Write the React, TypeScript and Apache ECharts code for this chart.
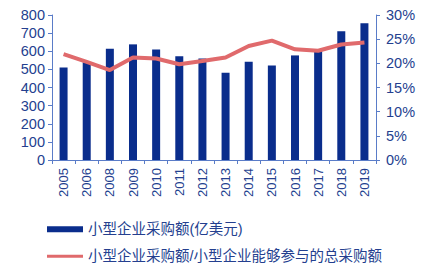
import React, { useEffect, useRef } from "react";
import * as echarts from "echarts";

const years = ["2005", "2006", "2008", "2009", "2010", "2011", "2012", "2013", "2014", "2015", "2016", "2017", "2018", "2019"];
const purchase = [510, 540, 614, 638, 610, 572, 560, 482, 542, 522, 577, 606, 711, 754];
const share = [21.9, 20.3, 18.6, 21.2, 21.0, 19.8, 20.5, 21.2, 23.6, 24.7, 22.9, 22.6, 23.9, 24.3];
const leftTicks = { min: 0, max: 800, interval: 100 };
const rightTicks = { min: 0, max: 30, interval: 5 };
const barName = "小型企业采购额(亿美元)";
const lineName = "小型企业采购额/小型企业能够参与的总采购额";

const FONT = "'Liberation Sans', Arial, 'Noto Sans CJK SC', sans-serif";
const TEXT = "#243f8f";
const AXIS = "#5a7cc8";

export default function App() {
  const ref = useRef<HTMLDivElement>(null);
  useEffect(() => {
    const chart = echarts.init(ref.current!, null, { renderer: "svg" });
    chart.setOption({
      animation: false,
      textStyle: { fontFamily: FONT },
      grid: { left: 52, right: 48, top: 15, bottom: 109 },
      legend: [
        {
          data: [{ name: barName, icon: "rect" }],
          orient: "vertical",
          left: 47,
          top: 222,
          padding: 0,
          itemWidth: 36,
          itemHeight: 6,
          itemGap: 4,
          textStyle: { color: TEXT, fontSize: 14.5, fontFamily: FONT },
        },
        {
          data: [{ name: lineName, icon: "rect" }],
          orient: "vertical",
          left: 47,
          top: 249,
          padding: 0,
          itemWidth: 36,
          itemHeight: 3,
          textStyle: { color: TEXT, fontSize: 14.5, fontFamily: FONT },
        },
      ],
      xAxis: {
        type: "category",
        data: years,
        axisLine: { lineStyle: { color: AXIS, width: 1 } },
        axisTick: { show: true, lineStyle: { color: AXIS }, length: 4 },
        axisLabel: { rotate: 90, color: TEXT, fontSize: 13, margin: 8 },
      },
      yAxis: [
        {
          type: "value",
          ...leftTicks,
          axisLine: { show: true, lineStyle: { color: AXIS } },
          axisTick: { show: true, lineStyle: { color: AXIS }, length: 4 },
          splitLine: { show: false },
          axisLabel: { color: TEXT, fontSize: 14.5, margin: 7 },
        },
        {
          type: "value",
          ...rightTicks,
          axisLine: { show: true, lineStyle: { color: AXIS } },
          axisTick: { show: true, lineStyle: { color: AXIS }, length: 4 },
          splitLine: { show: false },
          axisLabel: { color: TEXT, fontSize: 14.5, margin: 10, formatter: "{value}%" },
        },
      ],
      series: [
        {
          name: barName,
          type: "bar",
          data: purchase,
          barWidth: 8,
          itemStyle: { color: "#0a2d8c" },
        },
        {
          name: lineName,
          type: "line",
          yAxisIndex: 1,
          data: share,
          symbol: "none",
          lineStyle: { color: "#e06a6c", width: 4 },
          itemStyle: { color: "#e06a6c" },
        },
      ],
    });
    return () => chart.dispose();
  }, []);
  return <div ref={ref} style={{ position: "absolute", left: 0, top: 0, width: 424, height: 269 }} />;
}
